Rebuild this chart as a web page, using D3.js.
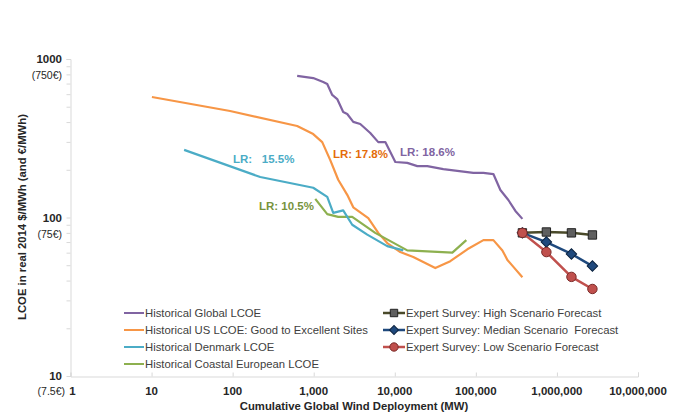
<!DOCTYPE html>
<html><head><meta charset="utf-8">
<script src="https://cdn.jsdelivr.net/npm/d3@7"></script>
<style>body{margin:0;background:#fff}svg{display:block;font-family:"Liberation Sans",Arial,sans-serif}</style>
</head><body><svg id="c" width="682" height="412"></svg>
<script>
// ---- data ----
const globalX = [625,986,1310,1469,1692,1950,2311,2592,3075,3750,4985,6255,7640,10150,14260,18960,25200,39700,59100,93100,123800,164500,200600,251700,307500,375000];
const globalY = [782,758,716,696,593,559,463,450,401,389,341,299,299,224,221,211,211,202,197,191,191,188,149,129,110,98];
const usX = [10.1,93,625,986,1274,1600,2005,2592,3075,4710,6255,8070,11700,16900,31600,48400,78500,124000,164500,212500,245000,290600,375000];
const usY = [576,470,378,336,299,230,173,139,116,99,80,69,60.5,56.3,48,53,63,72,72,62,54,48.8,42];
const dkX = [25.2,219,986,1469,1740,2311,2985,4575,8070,12740];
const dkY = [267,180,154,135,107,111,90,78,66,62];
const euX = [1045,1469,2005,2985,5740,14260,51300,76300];
const euY = [131,105,101,101,80,62,60,72];
const fcX = [375000,741000,1510000,2740000];
const highY = [80,81,80,77.6];
const medianY = [80,70,58.9,49.4];
const lowY = [80,60.5,42.2,35.4];
const xTicks = [1,10,100,1000,10000,100000,1000000,10000000];
const xTickLabels = ["1","10","100","1,000","10,000","100,000","1,000,000","10,000,000"];
const yTicks = [1000,100,10];
const yTickLabels = ["1000","100","10"];
const yEuroLabels = ["(750€)","(75€)","(7.5€)"];
const lrLabels = [
  {text:"LR: 18.6%", color:"#8064A2", x:400, y:156},
  {text:"LR: 17.8%", color:"#E46C0A", x:333, y:158},
  {text:"LR:   15.5%", color:"#4BACC6", x:233, y:163},
  {text:"LR: 10.5%", color:"#77933C", x:259, y:210}
];

// ---- chart ----
const svg = d3.select("#c");
const x = d3.scaleLog().domain([1,1e7]).range([70.5,638]);
const y = d3.scaleLog().domain([10,1000]).range([376,59]);

// y axis
const yMinor = [];
[10,100].forEach(d=>{for(let k=2;k<=10;k++) yMinor.push(d*k);});
const yAx = svg.append("g").attr("transform","translate(70.5,0)")
  .call(d3.axisLeft(y).tickValues(yMinor).tickSize(4).tickFormat(""));
yAx.select(".domain").attr("stroke","#d9d9d9");
yAx.selectAll(".tick line").attr("stroke","#d9d9d9");
yTicks.forEach((t,i)=>{
  svg.append("text").attr("x",62).attr("y",y(t)+4).attr("text-anchor","end")
    .attr("font-size",11.5).attr("font-weight","bold").attr("fill","#262626").text(yTickLabels[i]);
});
yTicks.forEach((t,i)=>{
  svg.append("text").attr("x",i===2?65:62).attr("y",y(t)+(i===2?19:20)).attr("text-anchor","end")
    .attr("font-size",10.5).attr("fill","#262626").text(yEuroLabels[i]);
});

// x axis
const xAx = svg.append("g").attr("transform","translate(0,376.5)")
  .call(d3.axisTop(x).tickValues(xTicks).tickSize(4).tickFormat(""));
xAx.select(".domain").attr("stroke","#d9d9d9");
xAx.selectAll(".tick line").attr("stroke","#d9d9d9");
xTicks.forEach((t,i)=>{
  svg.append("text").attr("x",x(t)+(i===0?2:0)).attr("y",395).attr("text-anchor","middle")
    .attr("font-size",11.5).attr("font-weight","bold").attr("fill","#262626").text(xTickLabels[i]);
});

// titles
svg.append("text").attr("x",354).attr("y",410).attr("text-anchor","middle")
  .attr("font-size",11.3).attr("font-weight","bold").attr("fill","#262626")
  .text("Cumulative Global Wind Deployment (MW)");
svg.append("text").attr("transform","translate(26,217) rotate(-90)").attr("text-anchor","middle")
  .attr("font-size",11.3).attr("font-weight","bold").attr("fill","#262626")
  .text("LCOE in real 2014 $/MWh (and €/MWh)");

const line = d3.line().x(d=>x(d[0])).y(d=>y(d[1]));
function series(xs,ys,color,w){
  svg.append("path").datum(xs.map((v,i)=>[v,ys[i]])).attr("d",line)
    .attr("fill","none").attr("stroke",color).attr("stroke-width",w).attr("stroke-linejoin","round");
}
series(globalX,globalY,"#8064A2",2.2);
series(usX,usY,"#F79646",2.2);
series(euX,euY,"#8DB04F",2.2);
series(dkX,dkY,"#4BACC6",2.2);

// forecasts
const fc = [
  {ys:highY, line:"#4A4A2A", fill:"#5F5F5F", stroke:"#222", sym:d3.symbolSquare, size:70, rot:0},
  {ys:medianY, line:"#1F497D", fill:"#1F497D", stroke:"#0d2440", sym:d3.symbolSquare, size:55, rot:45},
  {ys:lowY, line:"#C0504D", fill:"#C0504D", stroke:"#7a2a28", sym:d3.symbolCircle, size:70, rot:0}
];
fc.forEach(s=>{
  series(fcX,s.ys,s.line,2.5);
  svg.append("g").selectAll("path").data(fcX.map((v,i)=>[v,s.ys[i]])).join("path")
    .attr("transform",d=>`translate(${x(d[0])},${y(d[1])}) rotate(${s.rot})`)
    .attr("d",d3.symbol().type(s.sym).size(s.size))
    .attr("fill",s.fill).attr("stroke",s.stroke).attr("stroke-width",1);
});

// LR labels
lrLabels.forEach(l=>{
  svg.append("text").attr("x",l.x).attr("y",l.y).attr("font-size",11.5).attr("font-weight","bold")
    .attr("fill",l.color).style("white-space","pre").text(l.text);
});

// legend
const legL = [
  {t:"Historical Global LCOE", c:"#8064A2"},
  {t:"Historical US LCOE: Good to Excellent Sites", c:"#F79646"},
  {t:"Historical Denmark LCOE", c:"#4BACC6"},
  {t:"Historical Coastal European LCOE", c:"#8DB04F"}
];
legL.forEach((d,i)=>{
  const yy = 313 + i*17;
  svg.append("line").attr("x1",124).attr("x2",144).attr("y1",yy).attr("y2",yy).attr("stroke",d.c).attr("stroke-width",2);
  svg.append("text").attr("x",145).attr("y",yy+4).attr("font-size",11.3).attr("fill","#404040").text(d.t);
});
const legR = [
  {t:"Expert Survey: High Scenario Forecast", s:fc[0]},
  {t:"Expert Survey: Median Scenario  Forecast", s:fc[1]},
  {t:"Expert Survey: Low Scenario Forecast", s:fc[2]}
];
legR.forEach((d,i)=>{
  const yy = 313 + i*17;
  svg.append("line").attr("x1",383).attr("x2",405).attr("y1",yy).attr("y2",yy).attr("stroke",d.s.line).attr("stroke-width",2.5);
  svg.append("path").attr("transform",`translate(394,${yy}) rotate(${d.s.rot})`).attr("d",d3.symbol().type(d.s.sym).size(d.s.rot?40:55))
    .attr("fill",d.s.fill).attr("stroke",d.s.stroke).attr("stroke-width",1);
  svg.append("text").attr("x",406).attr("y",yy+4).attr("font-size",11.3).attr("fill","#404040")
    .style("white-space","pre").text(d.t);
});
</script></body></html>
